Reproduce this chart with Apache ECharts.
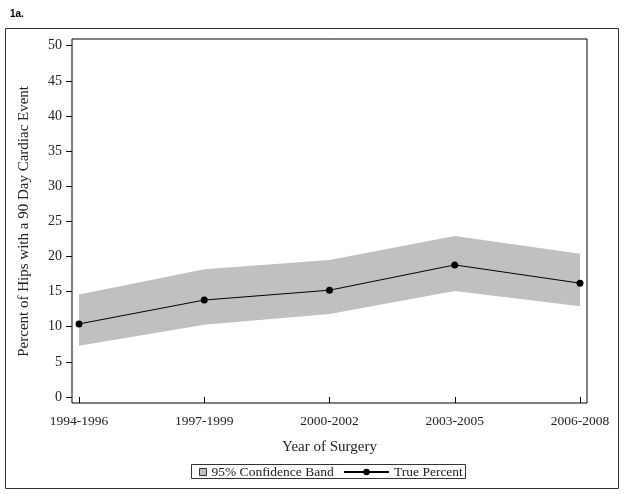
<!DOCTYPE html>
<html>
<head>
<meta charset="utf-8">
<script src="https://cdn.jsdelivr.net/npm/echarts@6/dist/echarts.min.js"></script>
<style>
html,body{margin:0;padding:0;background:#fff;}
#chart{width:624px;height:495px;}
</style>
</head>
<body>
<div id="chart"></div>
<script>
var categories = ['1994-1996', '1997-1999', '2000-2002', '2003-2005', '2006-2008'];
var truePercent = [10.4, 13.8, 15.2, 18.8, 16.2];
var lowerCI = [7.3, 10.3, 11.8, 15.1, 12.9];
var upperCI = [14.6, 18.2, 19.5, 22.9, 20.4];
var yTicks = [0, 5, 10, 15, 20, 25, 30, 35, 40, 45, 50];

var bandWidth = upperCI.map(function (u, i) { return +(u - lowerCI[i]).toFixed(2); });

var serif = 'Liberation Serif';
var txt = '#222';

var chart = echarts.init(document.getElementById('chart'), null, {renderer: 'canvas'});
chart.setOption({
  animation: false,
  backgroundColor: '#fff',
  title: {
    text: '1a.', left: 5, top: 4,
    textStyle: {fontFamily: 'Liberation Sans', fontWeight: 'bold', fontSize: 10, color: '#000'}
  },
  graphic: [
    {type: 'rect', shape: {x: 5.5, y: 28.5, width: 613, height: 460}, style: {fill: null, stroke: '#333', lineWidth: 1}, silent: true},
    {type: 'rect', shape: {x: 191.5, y: 464.5, width: 274, height: 14}, style: {fill: null, stroke: '#333', lineWidth: 1}, silent: true}
  ],
  grid: [
    {left: 72, top: 39, width: 515, height: 364, show: true, borderColor: '#000', borderWidth: 1, backgroundColor: 'transparent'},
    {left: 79, right: 44, top: 45.7, bottom: 98}
  ],
  xAxis: [
    {gridIndex: 0, type: 'value', show: false, min: 0, max: 1},
    {
      gridIndex: 1, type: 'category', data: categories, boundaryGap: false, offset: 6.3,
      axisLine: {show: false},
      axisTick: {show: true, length: 6, alignWithLabel: true, lineStyle: {color: '#000'}},
      axisLabel: {margin: 11, fontFamily: serif, fontSize: 13.5, color: txt, interval: 0},
      name: 'Year of Surgery', nameLocation: 'middle', nameGap: 36,
      nameTextStyle: {fontFamily: serif, fontSize: 15, color: txt}
    }
  ],
  yAxis: [
    {gridIndex: 0, type: 'value', show: false, min: 0, max: 1},
    {
      gridIndex: 1, type: 'value', min: yTicks[0], max: yTicks[yTicks.length - 1], interval: yTicks[1] - yTicks[0], offset: 7,
      axisLine: {show: false},
      axisTick: {show: true, length: 6, lineStyle: {color: '#000'}},
      splitLine: {show: false},
      axisLabel: {margin: 10, fontFamily: serif, fontSize: 14, color: txt},
      name: 'Percent of Hips with a 90 Day Cardiac Event', nameLocation: 'middle', nameGap: 40,
      nameTextStyle: {fontFamily: serif, fontSize: 15, color: txt}
    }
  ],
  legend: [
    {
      left: 199, top: 465, padding: 0, itemWidth: 7, itemHeight: 7,
      textStyle: {fontFamily: serif, fontSize: 13.5, color: txt},
      data: [{name: '95% Confidence Band', icon: 'rect', itemStyle: {color: '#c0c0c0', borderColor: '#333', borderWidth: 1}}]
    },
    {
      left: 343, top: 465, padding: 0, itemWidth: 45, itemHeight: 8,
      textStyle: {fontFamily: serif, fontSize: 13.5, color: txt},
      data: [{name: 'True Percent'}]
    }
  ],
  series: [
    {
      name: 'lower', type: 'line', xAxisIndex: 1, yAxisIndex: 1, stack: 'ci', data: lowerCI,
      symbol: 'none', lineStyle: {opacity: 0}, silent: true
    },
    {
      name: '95% Confidence Band', type: 'line', xAxisIndex: 1, yAxisIndex: 1, stack: 'ci', data: bandWidth,
      symbol: 'none', color: '#c0c0c0', lineStyle: {width: 0, opacity: 0},
      areaStyle: {color: '#c0c0c0', opacity: 1}, silent: true
    },
    {
      name: 'True Percent', type: 'line', xAxisIndex: 1, yAxisIndex: 1, data: truePercent,
      symbol: 'circle', symbolSize: 7, color: '#000',
      lineStyle: {color: '#000', width: 1}, itemStyle: {color: '#000'}
    }
  ]
});
</script>
</body>
</html>
